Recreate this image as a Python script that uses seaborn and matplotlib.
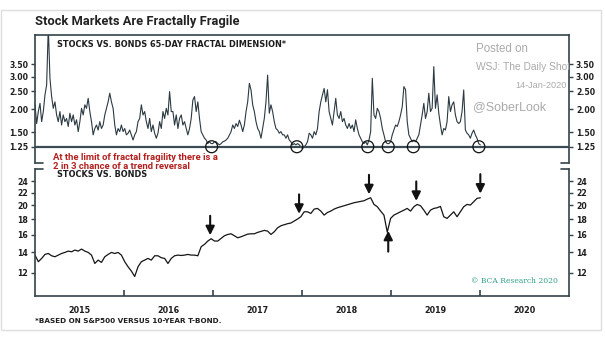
import numpy as np
import pandas as pd
import matplotlib
matplotlib.use("Agg")
import matplotlib.pyplot as plt
import matplotlib.dates as mdates
from matplotlib.ticker import FixedLocator, FixedFormatter, NullLocator
from matplotlib.patches import Rectangle
import seaborn as sns

# ---------------- data ----------------
series_start = "2015-01-01"
series_end = "2020-01-03"

fractal_dimension = [
    2.11, 1.67, 1.94, 2.15, 1.71, 1.94, 2.39, 2.70, 5.60, 2.94,
    2.34, 2.02, 2.19, 1.86, 1.71, 1.94, 1.64, 1.86, 1.71, 1.78,
    1.61, 1.90, 1.71, 1.86, 1.64, 1.75, 1.51, 1.71, 2.02, 1.86,
    2.11, 2.02, 2.29, 1.94, 1.71, 1.45, 1.57, 1.64, 1.54, 1.71,
    1.57, 1.64, 1.86, 2.02, 2.19, 2.44, 2.19, 2.02, 1.64, 1.45,
    1.57, 1.51, 1.64, 1.51, 1.57, 1.45, 1.48, 1.54, 1.45, 1.36,
    1.45, 1.51, 1.71, 1.78, 2.11, 1.86, 1.94, 1.71, 1.57, 1.78,
    1.51, 1.64, 1.48, 1.39, 1.48, 1.71, 1.57, 1.94, 1.78, 2.02,
    1.86, 2.49, 1.94, 1.94, 1.64, 1.86, 1.57, 1.78, 1.86, 1.64,
    1.71, 1.57, 1.45, 1.57, 1.78, 2.24, 2.34, 1.94, 2.19, 1.78,
    1.51, 1.45, 1.39, 1.36, 1.30,
    1.33, 1.30, 1.30, 1.33, 1.33, 1.30, 1.28, 1.30, 1.33, 1.34,
    1.36, 1.39, 1.45, 1.51, 1.64, 1.57, 1.67, 1.61, 1.74, 1.64,
    1.51, 1.64, 1.94, 2.19, 2.76, 2.54, 2.11, 1.94, 1.71, 1.57,
    1.51, 1.39, 1.57, 1.78, 2.19, 3.06, 1.90, 2.11, 1.94, 1.71,
    1.57, 1.54, 1.48, 1.51, 1.45, 1.45, 1.39, 1.45, 1.36, 1.33,
    1.28, 1.30, 1.28, 1.30, 1.28, 1.25, 1.22, 1.25, 1.28, 1.33,
    1.48, 1.45, 1.39, 1.51, 1.45, 1.57, 1.94, 2.19, 2.39, 2.59,
    2.19, 2.55, 1.94, 1.78, 1.64, 1.94, 2.29, 1.86, 1.78, 1.94,
    1.71, 1.78, 1.64, 1.57, 1.67, 1.57, 1.64, 1.51, 1.75, 1.57,
    1.45, 1.39, 1.33, 1.30, 1.33, 1.28, 1.36, 1.51, 2.94, 1.86,
    1.78, 2.02, 1.94, 1.78, 1.57,
    1.45, 1.33, 1.30, 1.30, 1.33, 1.45, 1.54, 1.64, 1.61, 1.71,
    1.86, 2.06, 2.65, 2.55, 1.71, 1.45, 1.39, 1.33, 1.36, 1.33,
    1.39, 1.45, 1.64, 1.86, 2.15, 1.78, 1.94, 2.44, 1.94, 2.02,
    3.40, 2.02, 2.39, 1.90, 1.64, 1.45, 1.57, 1.54, 1.71, 2.34,
    1.94, 2.11, 2.19, 1.86, 1.71, 1.67, 1.71, 1.94, 2.54, 1.54,
    1.48, 1.45, 1.39, 1.48, 1.54, 1.45, 1.39, 1.30, 1.28,
]

stocks_vs_bonds = [
    13.70, 13.03, 13.36, 13.77, 13.87, 13.63, 13.53, 13.70, 13.87, 13.98,
    14.12, 14.05, 14.23, 14.12, 14.34, 14.12, 13.98, 13.70, 12.86, 13.19,
    12.96, 13.53, 13.77, 13.98, 13.87, 13.98, 13.70, 13.03, 12.54, 12.14,
    11.65, 12.54, 13.03, 13.19, 13.36, 13.19, 13.63, 13.63, 13.43, 13.36,
    12.86, 13.36, 13.63, 13.70, 13.66, 13.70, 13.77, 13.70, 13.70, 13.63,
    14.60, 14.86, 15.24,
    15.51, 15.24, 15.24, 15.54, 15.86, 16.02, 16.10, 15.86, 15.62, 15.74,
    15.90, 16.06, 16.10, 16.10, 16.27, 16.39, 16.52, 16.43, 16.02, 16.35,
    16.85, 17.11, 17.24, 17.38, 17.47, 17.73, 18.00, 18.32, 19.02, 19.02,
    18.78, 19.41, 19.51, 19.12, 18.55, 18.92, 19.12, 19.41, 19.61, 19.76,
    19.91, 20.06, 20.21, 20.37, 20.47, 20.57, 20.68, 20.94, 21.15, 20.11,
    19.76, 19.12,
    18.55, 16.30, 18.09, 18.55, 18.78, 19.02, 19.26, 19.51, 19.12, 19.76,
    20.11, 19.91, 19.26, 18.55, 19.26, 19.51, 19.61, 19.81, 18.32, 18.09,
    18.55, 19.02, 18.32, 19.02, 19.76, 20.11, 20.01, 20.52, 21.05, 21.15,
]

fragility_limit = 1.25
fragility_dates = ["2016-12-26", "2017-12-11", "2018-09-28",
                   "2018-12-21", "2019-04-03", "2019-12-28"]
reversal_down_dates = ["2016-12-20", "2017-12-20", "2018-10-03",
                       "2019-04-15", "2020-01-03"]
reversal_up_dates = ["2018-12-21"]

fractal_ticks = [1.25, 1.50, 2.00, 2.50, 3.00, 3.50]
fractal_tick_labels = ["1.25", "1.50", "2.00", "2.50", "3.00", "3.50"]
ratio_ticks = [12, 14, 16, 18, 20, 22, 24]
ratio_tick_labels = ["12", "14", "16", "18", "20", "22", "24"]
year_labels = ["2015", "2016", "2017", "2018", "2019", "2020"]

# ---------------- styling ----------------
sns.set_theme(style="white")
plt.rcParams["font.family"] = ["DejaVu Sans"]
plt.rcParams["font.weight"] = "bold"

INK = "#2b3a42"
SPINE = "#34444c"

fig = plt.figure(figsize=(6.05, 3.41), dpi=100)
W, H = 605.0, 341.0
ax1 = fig.add_axes([35 / W, 1 - 163 / H, 534 / W, 128 / H])
ax2 = fig.add_axes([35 / W, 1 - 296 / H, 534 / W, 127 / H])

df_top = pd.DataFrame({
    "date": pd.date_range(series_start, series_end, periods=len(fractal_dimension)),
    "value": fractal_dimension,
})
df_bot = pd.DataFrame({
    "date": pd.date_range(series_start, series_end, periods=len(stocks_vs_bonds)),
    "value": stocks_vs_bonds,
})

sns.lineplot(data=df_top, x="date", y="value", ax=ax1, color=INK, lw=0.8)
sns.lineplot(data=df_bot, x="date", y="value", ax=ax2, color="#151515", lw=0.9)

xmin, xmax = pd.Timestamp("2015-01-01"), pd.Timestamp("2021-01-01")
for ax in (ax1, ax2):
    ax.set_xlim(xmin, xmax)
    ax.set_yscale("log")
    ax.set_xlabel("")
    ax.set_ylabel("")
    ax.grid(False)
    for s in ax.spines.values():
        s.set_color(SPINE)
        s.set_linewidth(1.2)

ax1.set_ylim(1.02, 5.05)
ax2.set_ylim(10.05, 26.3)

ax1.spines["bottom"].set_visible(False)
ax2.spines["top"].set_visible(False)

for ax, ticks, labels in ((ax1, fractal_ticks, fractal_tick_labels),
                          (ax2, ratio_ticks, ratio_tick_labels)):
    ax.yaxis.set_major_locator(FixedLocator(ticks))
    ax.yaxis.set_major_formatter(FixedFormatter(labels))
    ax.yaxis.set_minor_locator(NullLocator())
    ax.tick_params(axis="y", which="major", left=True, right=True,
                   labelleft=True, labelright=True, direction="out",
                   length=3, width=1, color=SPINE, labelsize=5.6,
                   labelcolor="#1e1e1e", pad=2)

# top panel: no x ticks
ax1.tick_params(axis="x", which="both", bottom=False, labelbottom=False)

# bottom panel: year labels mid-year, ticks at year boundaries
years = [int(y) for y in year_labels]
mid = [mdates.date2num(pd.Timestamp(f"{y}-07-01")) for y in years]
bounds = [mdates.date2num(pd.Timestamp(f"{y}-01-01")) for y in years[1:]]
ax2.xaxis.set_major_locator(FixedLocator(mid))
ax2.xaxis.set_major_formatter(FixedFormatter(year_labels))
ax2.xaxis.set_minor_locator(FixedLocator(bounds))
ax2.tick_params(axis="x", which="major", length=0, labelsize=5.8,
                labelcolor="#1e1e1e", pad=7)
ax2.tick_params(axis="x", which="minor", bottom=True, direction="in",
                length=4, width=1.2, color=SPINE)

# threshold line and fragility circles
ax1.axhline(fragility_limit, color="#3b4b53", lw=1.6, zorder=3)
frag_x = [mdates.date2num(pd.Timestamp(d)) for d in fragility_dates]
ax1.scatter(frag_x, [fragility_limit] * len(frag_x), s=74,
            facecolors="none", edgecolors="#111111", linewidths=0.9, zorder=5)

# corner caps where the two panels meet
for ax, yy in ((ax1, 0.0), (ax2, 1.0)):
    ax.plot([0, 0.015], [yy, yy], transform=ax.transAxes, color=SPINE,
            lw=1.2, clip_on=False)
    ax.plot([0.985, 1.0], [yy, yy], transform=ax.transAxes, color=SPINE,
            lw=1.2, clip_on=False)

# reversal arrows on the stocks vs bonds line
bot_x = mdates.date2num(df_bot["date"])
for d in reversal_down_dates:
    xd = mdates.date2num(pd.Timestamp(d))
    yd = float(np.interp(xd, bot_x, df_bot["value"]))
    ax2.annotate("", xy=(xd, yd), xytext=(0, 17), textcoords="offset points",
                 arrowprops=dict(arrowstyle="-|>", color="#111111", lw=1.5,
                                 shrinkA=0, shrinkB=3, mutation_scale=13))
for d in reversal_up_dates:
    xd = mdates.date2num(pd.Timestamp(d))
    yd = float(np.interp(xd, bot_x, df_bot["value"]))
    ax2.annotate("", xy=(xd, yd), xytext=(0, -17), textcoords="offset points",
                 arrowprops=dict(arrowstyle="-|>", color="#111111", lw=1.5,
                                 shrinkA=0, shrinkB=2, mutation_scale=13))

# ---------------- texts ----------------
fig.text(35 / W, 1 - 21 / H, "Stock Markets Are Fractally Fragile",
         family="Roboto", fontsize=9.3, weight="bold", color="#222222",
         va="center", ha="left")

ax1.text(0.042, 0.922, "STOCKS VS. BONDS 65-DAY FRACTAL DIMENSION*",
         transform=ax1.transAxes, fontsize=5.85, weight="bold",
         color="#1e1e1e", va="center", ha="left")
ax2.text(0.041, 0.955, "STOCKS VS. BONDS", transform=ax2.transAxes,
         fontsize=5.85, weight="bold", color="#1e1e1e", va="center", ha="left")

red = "#b3201e"
fig.text(53 / W, 1 - 157.5 / H, "At the limit of fractal fragility there is a",
         family="Roboto", fontsize=6.8, weight="bold", color=red,
         va="center", ha="left")
fig.text(53 / W, 1 - 166.5 / H, "2 in 3 chance of a trend reversal",
         family="Roboto", fontsize=6.8, weight="bold", color=red,
         va="center", ha="left")

wm = "#aaaaaa"
ax1.text(0.826, 0.891, "Posted on", transform=ax1.transAxes,
         family="Liberation Sans", fontsize=8.3, weight="normal", color=wm,
         va="center", ha="left")
ax1.text(0.826, 0.75, "WSJ: The Daily Shot", transform=ax1.transAxes,
         family="Liberation Sans", fontsize=7.4, weight="normal", color=wm,
         va="center", ha="left", clip_on=True)
ax1.text(0.996, 0.609, "14-Jan-2020", transform=ax1.transAxes,
         family="Liberation Sans", fontsize=6.6, weight="normal", color=wm,
         va="center", ha="right")
ax1.text(0.820, 0.4375, "@SoberLook", transform=ax1.transAxes,
         family="Liberation Sans", fontsize=9, weight="normal", color=wm,
         va="center", ha="left")

ax2.text(0.979, 0.116, "© BCA Research 2020", transform=ax2.transAxes,
         family="DejaVu Serif", fontsize=5.5, weight="normal",
         color="#2f9f86", va="center", ha="right")

fig.text(35 / W, 1 - 321 / H, "*BASED ON S&P500 VERSUS 10-YEAR T-BOND.",
         fontsize=5.2, weight="bold", color="#1e1e1e", va="center", ha="left")

# light outer frame
fig.patches.append(Rectangle((1 / W, 1 - 330 / H), 600 / W, 320 / H,
                             transform=fig.transFigure, fill=False,
                             edgecolor="#dedede", lw=1.0))

fig.savefig("out.png", dpi=100)
